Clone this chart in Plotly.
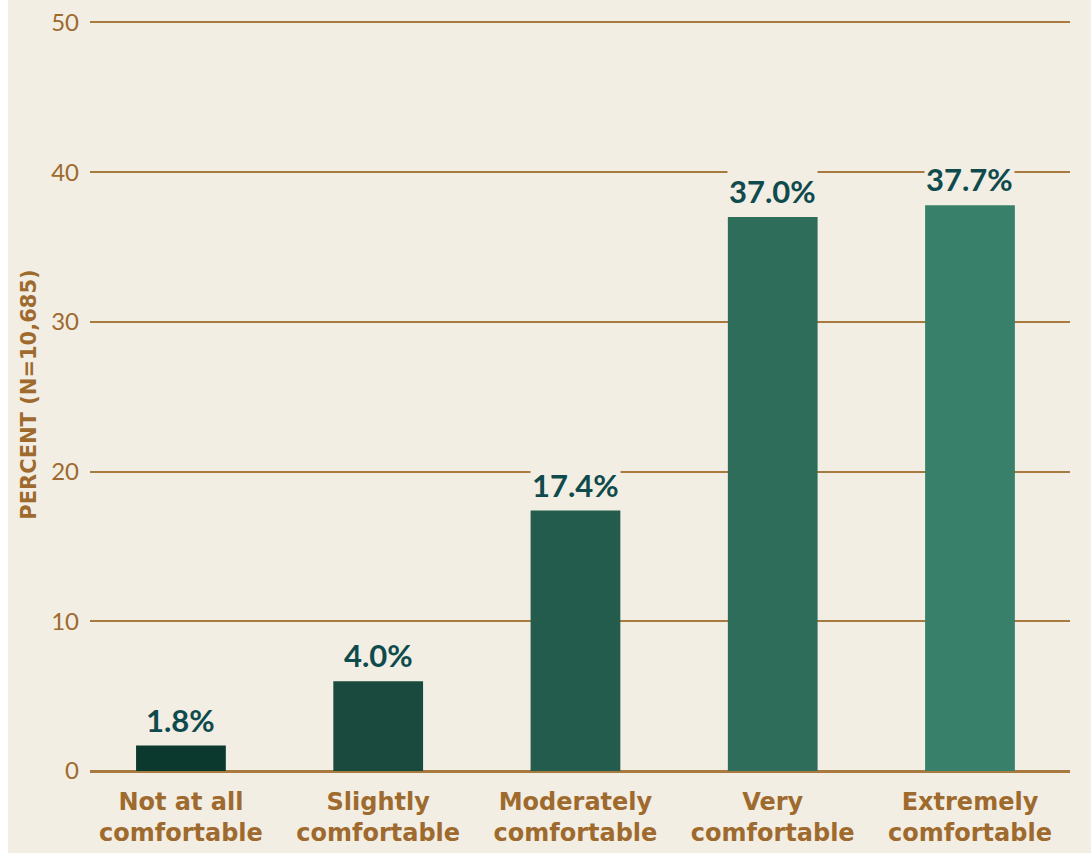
import plotly.graph_objects as go

categories = ["Not at all<br>comfortable", "Slightly<br>comfortable", "Moderately<br>comfortable",
              "Very<br>comfortable", "Extremely<br>comfortable"]
bar_values = [1.7, 6.0, 17.4, 37.0, 37.8]
bar_labels = ["1.8%", "4.0%", "17.4%", "37.0%", "37.7%"]
bar_colors = ["#0B392E", "#1A4A3E", "#235C4C", "#2E6D5A", "#388069"]
y_ticks = [0, 10, 20, 30, 40, 50]

BG = "#F2EEE4"
BROWN = "#9E6A2E"
GRID = "#A97A40"
LABEL = "#0F4A4C"
FONT = "Lato"
CAT_FONT = "DejaVu Sans"

fig = go.Figure()
fig.add_trace(go.Bar(
    x=categories, y=bar_values, marker=dict(color=bar_colors, line=dict(width=0)),
    width=0.455, hoverinfo="skip",
))

for c, v, t in zip(categories, bar_values, bar_labels):
    fig.add_annotation(x=c, y=v, text=f"<b>{t}</b>", showarrow=False, yanchor="bottom",
                       yshift=5, bgcolor=BG, borderpad=1,
                       font=dict(family=FONT, size=31, color=LABEL))

fig.update_layout(
    width=1083, height=853,
    margin=dict(l=82, r=21, t=17.5, b=82),
    paper_bgcolor=BG, plot_bgcolor=BG,
    showlegend=False,
    font=dict(family=FONT, color=BROWN),
    xaxis=dict(
        range=[-0.461, 4.507], showgrid=False, showline=False, zeroline=False,
        tickfont=dict(family=CAT_FONT, size=24, color=BROWN), ticks="",
        tickprefix="<b>", ticksuffix="</b>", ticklabelstandoff=14, automargin=False,
    ),
    yaxis=dict(
        range=[0, 50.3], tickvals=y_ticks, showgrid=True, gridcolor=GRID, gridwidth=1.5,
        zeroline=True, zerolinecolor=GRID, zerolinewidth=3, showline=False,
        tickfont=dict(family=FONT, size=24, color=BROWN), ticks="", ticklabelstandoff=10,
        automargin=False,
        title=dict(text="<b>PERCENT (N=10,685)</b>", font=dict(family=CAT_FONT, size=21, color=BROWN),
                   standoff=8),
    ),
)

fig.write_html("out.html", post_script="document.body.style.margin='0 0 0 8px';")
